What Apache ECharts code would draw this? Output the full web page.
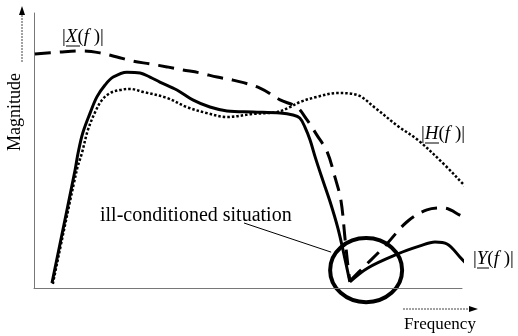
<!DOCTYPE html>
<html>
<head>
<meta charset="utf-8">
<script src="https://cdn.jsdelivr.net/npm/echarts@6/dist/echarts.min.js"></script>
<style>
  html, body { margin: 0; padding: 0; background: #fff; }
  #chart { width: 518px; height: 336px; }
</style>
</head>
<body>
<div id="chart"></div>
<script>
// |Y(f)| - system output (solid)
const yFreq = [4.2, 9.6, 10.3, 11.4, 13.1, 14.7, 16.6, 18.5, 21.7, 24.8, 27.1, 29.4, 33.4, 37.1, 41.1, 45.1, 51.2, 57.5, 60.5, 62.1, 63.3, 64.5, 65.7, 67.3, 69.2, 71.0, 72.4, 73.8, 78.0, 85.0, 90.2, 93.7, 96.5, 99.5, 104.4];
const yMag  = [1.8, 42.9, 49.1, 56.4, 63.6, 69.5, 73.8, 76.7, 78.5, 78.2, 76.7, 74.9, 72.0, 68.4, 65.8, 64.4, 64.0, 63.6, 62.9, 61.8, 58.5, 53.8, 47.6, 40.0, 31.3, 21.8, 12.4, 2.2, 7.3, 12.4, 15.3, 16.7, 16.0, 11.3, 2.9];
const yVertex = 27;

// |X(f)| - input spectrum (dashed)
const xFreq = [0.2, 6.1, 11.4, 15.4, 19.4, 23.1, 27.1, 31.1, 34.8, 38.8, 42.8, 46.5, 52.8, 57.5, 61.4, 63.8, 66.1, 68.5, 70.3, 71.7, 72.7, 73.4, 73.8, 77.3, 82.0, 87.1, 91.8, 95.6, 99.5, 104.7];
const xMag  = [85.1, 85.8, 86.2, 85.5, 84.0, 82.5, 81.5, 80.4, 79.3, 78.2, 76.7, 75.6, 72.7, 68.4, 65.8, 61.1, 55.6, 49.5, 40.4, 32.0, 17.5, 7.3, 2.5, 8.0, 15.3, 24.0, 28.4, 29.1, 26.5, 21.8];
const xVertex = 22;

// |H(f)| - frequency response (dotted)
const hFreq = [4.4, 10.0, 11.2, 12.6, 14.3, 15.9, 17.8, 20.1, 22.4, 25.5, 31.1, 35.7, 40.4, 45.1, 51.2, 56.8, 59.8, 62.1, 66.1, 70.8, 75.5, 79.7, 85.0, 89.7, 96.0, 100.7, 105.8];
const hMag  = [1.5, 42.9, 49.1, 57.5, 64.0, 68.4, 70.9, 72.0, 72.4, 71.3, 69.1, 65.8, 63.6, 62.2, 63.3, 64.0, 65.8, 67.6, 69.5, 70.9, 70.2, 65.5, 58.9, 53.8, 44.7, 37.1, 29.5];

// annotated ill-conditioned point (frequency, magnitude)
const badPoint = [77.6, 6.5];

const serif = '"Liberation Serif", "Times New Roman", serif';

function pairs(f, m, a, b) {
  const out = [];
  for (let i = a; i <= b; i++) out.push([f[i], m[i]]);
  return out;
}

const base = {
  type: 'line', symbol: 'none', smooth: 0.35, clip: false,
  silent: true, animation: false
};
const solidStyle  = { color: '#000', width: 3 };
const dashedStyle = { color: '#000', width: 3, type: [16, 9] };
const dottedStyle = { color: '#000', width: 2.5, type: [2.5, 2] };

const chart = echarts.init(document.getElementById('chart'));

const plainAxis = {
  type: 'value', min: 0, max: 100,
  axisLine: { show: true, lineStyle: { color: '#777', width: 1 } },
  axisTick: { show: false }, axisLabel: { show: false }, splitLine: { show: false }
};

chart.setOption({
  animation: false,
  backgroundColor: '#fff',
  grid: { left: 34, right: 56, top: 13, bottom: 48 },
  xAxis: Object.assign({}, plainAxis),
  yAxis: Object.assign({}, plainAxis),
  series: [
    Object.assign({}, base, { lineStyle: solidStyle,  data: pairs(yFreq, yMag, 0, yVertex) }),
    Object.assign({}, base, { lineStyle: solidStyle,  data: pairs(yFreq, yMag, yVertex, yFreq.length - 1) }),
    Object.assign({}, base, { lineStyle: dashedStyle, data: pairs(xFreq, xMag, 0, xVertex) }),
    Object.assign({}, base, { lineStyle: dashedStyle, data: pairs(xFreq, xMag, xVertex, xFreq.length - 1) }),
    Object.assign({}, base, { lineStyle: dottedStyle, data: pairs(hFreq, hMag, 0, hFreq.length - 1) })
  ]
});

const c = chart.convertToPixel({ gridIndex: 0 }, badPoint);
const rx = 36, ry = 32;

const labelRich = {
  bar: { fontFamily: serif, fontSize: 19, color: '#666' },
  it:  { fontFamily: serif, fontSize: 19, fontStyle: 'italic', color: '#000' },
  n:   { fontFamily: serif, fontSize: 19, color: '#000' }
};

function fnLabel(letter, x, y) {
  return {
    type: 'text', x: x, y: y, silent: true,
    style: {
      text: '{bar||}{it|' + letter + '}{n|(}{it|f}{n| )}{bar||}',
      rich: labelRich, align: 'left', verticalAlign: 'middle'
    }
  };
}

function underline(x1, x2, y) {
  return { type: 'line', silent: true, shape: { x1: x1, y1: y, x2: x2, y2: y },
           style: { stroke: '#000', lineWidth: 1 } };
}

chart.setOption({
  graphic: [
    // circle around the ill-conditioned point
    { type: 'ellipse', silent: true, shape: { cx: c[0], cy: c[1], rx: rx, ry: ry },
      style: { fill: null, stroke: '#000', lineWidth: 4 } },
    // callout line
    { type: 'line', silent: true,
      shape: { x1: 244, y1: 223, x2: c[0] - rx + 1, y2: c[1] - 18 },
      style: { stroke: '#000', lineWidth: 1 } },
    { type: 'text', x: 100, y: 216, silent: true,
      style: { text: 'ill-conditioned situation', fontFamily: serif, fontSize: 20,
               fill: '#000', align: 'left', verticalAlign: 'middle' } },

    // function labels
    fnLabel('X', 62, 37), underline(66, 80, 46),
    fnLabel('H', 421, 134), underline(425, 439, 143),
    fnLabel('Y', 473, 259), underline(477, 489, 268),

    // magnitude arrow and label
    { type: 'line', silent: true, shape: { x1: 22, y1: 62, x2: 22, y2: 14 },
      style: { stroke: '#444', lineWidth: 1, lineDash: [2, 1] } },
    { type: 'polygon', silent: true, shape: { points: [[22, 6], [19, 15], [25, 15]] },
      style: { fill: '#000' } },
    { type: 'text', x: 15, y: 112, rotation: Math.PI / 2, silent: true,
      style: { text: 'Magnitude', fontFamily: serif, fontSize: 18, fill: '#000',
               align: 'center', verticalAlign: 'middle' } },

    // frequency arrow and label
    { type: 'line', silent: true, shape: { x1: 403, y1: 309, x2: 470, y2: 309 },
      style: { stroke: '#444', lineWidth: 1, lineDash: [2, 1] } },
    { type: 'polygon', silent: true, shape: { points: [[478, 309], [469, 306], [469, 312]] },
      style: { fill: '#000' } },
    { type: 'text', x: 440, y: 325, silent: true,
      style: { text: 'Frequency', fontFamily: serif, fontSize: 17, fill: '#000',
               align: 'center', verticalAlign: 'middle' } }
  ]
});
</script>
</body>
</html>
